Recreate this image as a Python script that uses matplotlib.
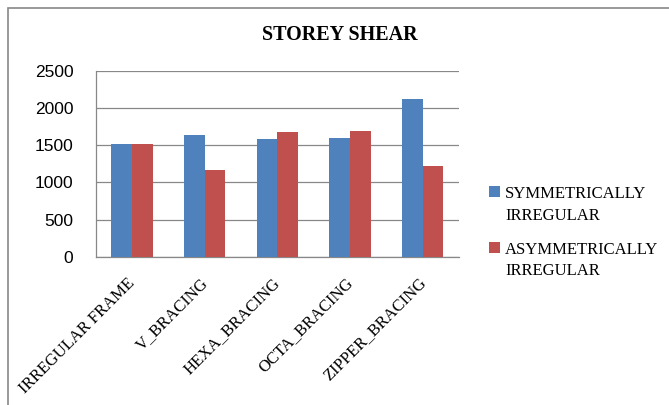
import matplotlib.pyplot as plt
from matplotlib.patches import Rectangle
from matplotlib.legend_handler import HandlerPatch
from matplotlib.container import BarContainer
from matplotlib.transforms import ScaledTranslation
import numpy as np

categories = ["IRREGULAR FRAME", "V_BRACING", "HEXA_BRACING", "OCTA_BRACING", "ZIPPER_BRACING"]
symmetric = [1510, 1631, 1586, 1595, 2124]
asymmetric = [1510, 1165, 1671, 1694, 1214]
series_names = ["SYMMETRICALLY\nIRREGULAR", "ASYMMETRICALLY\nIRREGULAR"]
yticks = [0, 500, 1000, 1500, 2000, 2500]

W, H = 669, 405
fig = plt.figure(figsize=(W / 100, H / 100), dpi=100)
ax = fig.add_axes([95.7 / W, 1 - 256.7 / H, (459 - 95.7) / W, (256.7 - 70.7) / H])

x = np.arange(len(categories))
w = 0.285
ax.bar(x - w / 2, symmetric, w, color="#4F81BD", label=series_names[0], zorder=3)
ax.bar(x + w / 2, asymmetric, w, color="#C0504D", label=series_names[1], zorder=3)

ax.set_xlim(-0.5, len(categories) - 0.5)
ax.set_ylim(0, 2500)
ax.set_yticks(yticks)
ax.yaxis.grid(True, color="#888888", linewidth=0.9, zorder=0)
for s in ["top", "right"]:
    ax.spines[s].set_visible(False)
for s in ["left", "bottom"]:
    ax.spines[s].set_color("#888888")
    ax.spines[s].set_linewidth(0.9)
ax.tick_params(axis="both", length=0)
ax.tick_params(axis="y", labelsize=12.5, pad=16)
for lab in ax.get_yticklabels():
    lab.set_family("Liberation Sans")

ax.set_xticks(x)
ax.set_xticklabels(categories, rotation=45, ha="right", rotation_mode="anchor",
                   family="Liberation Serif", fontsize=12)
ax.tick_params(axis="x", pad=13)
shift = ScaledTranslation(-5 / 100, 0, fig.dpi_scale_trans)
for lab in ax.get_xticklabels():
    lab.set_transform(lab.get_transform() + shift)

fig.text(340 / W, 1 - 35 / H, "STOREY SHEAR", ha="center", va="center",
         family="Liberation Serif", fontweight="bold", fontsize=14.5)


# put the legend square next to the first line of the label, as Excel does
def top_square(legend, orig_handle, xdescent, ydescent, width, height, fontsize):
    return Rectangle((-xdescent, -ydescent + fontsize * 0.8), width, height)


def first_bar(legend_handle, orig_handle):
    legend_handle.update_from(orig_handle.patches[0])


leg = ax.legend(loc="upper left", bbox_to_anchor=(481 / W, 1 - 178 / H),
                bbox_transform=fig.transFigure, frameon=False,
                prop={"family": "Liberation Serif", "size": 12},
                handlelength=0.65, handleheight=0.65, handletextpad=0.3,
                labelspacing=1.1, borderpad=0,
                handler_map={BarContainer: HandlerPatch(patch_func=top_square,
                                                         update_func=first_bar)})
for t in leg.get_texts():
    t.set_linespacing(1.45)

fig.patches.append(Rectangle((7.5 / W, -0.5), 2, 1 - 7.5 / H + 0.5,
                             transform=fig.transFigure, fill=False,
                             edgecolor="#888888", linewidth=1.2))

fig.savefig("out.png", dpi=100)
